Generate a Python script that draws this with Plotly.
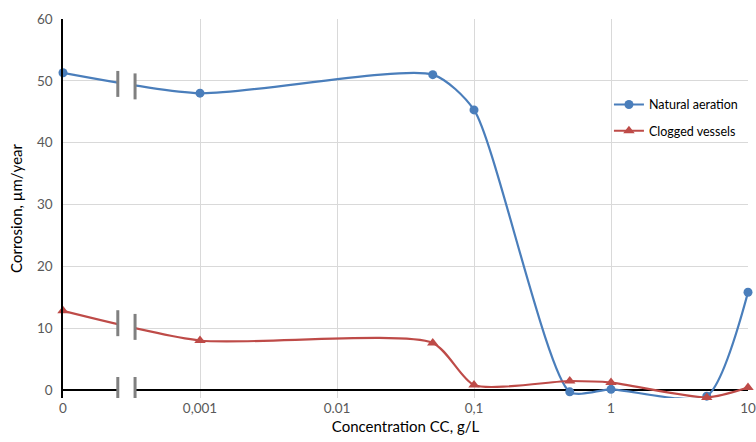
import math
import plotly.graph_objects as go

# ---- data ----
concentration = [0, 0.001, 0.05, 0.1, 0.5, 1, 5, 10]
natural_aeration = [51.3, 48.0, 51.0, 45.3, -0.3, 0.1, -1.0, 15.8]
clogged_vessels = [12.8, 8.0, 7.6, 0.8, 1.45, 1.2, -1.2, 0.4]
tick_values = [0, 0.001, 0.01, 0.1, 1, 10]
tick_labels = ["0", "0,001", "0.01", "0,1", "1", "10"]
series_names = ["Natural aeration", "Clogged vessels"]

ZERO_POS = -4  # axis position used for concentration 0 (broken axis)


def pos(v):
    return math.log10(v) if v > 0 else ZERO_POS


xs = [pos(v) for v in concentration]
tick_pos = [pos(v) for v in tick_values]

BLUE = "#4A7EBB"
RED = "#BE4B48"
FONT = "Lato, Carlito, Calibri, sans-serif"

fig = go.Figure()
fig.add_trace(go.Scatter(
    x=xs, y=natural_aeration, name=series_names[0], mode="lines+markers",
    legendgroup="a",
    line=dict(color=BLUE, width=2.2, shape="spline", smoothing=0.65),
    marker=dict(symbol="circle", size=9, color=BLUE), cliponaxis=False))
fig.add_trace(go.Scatter(
    x=xs, y=clogged_vessels, name=series_names[1], mode="lines+markers",
    legendgroup="b",
    line=dict(color=RED, width=2.2, shape="spline", smoothing=0.65),
    marker=dict(symbol="triangle-up", size=10, color=RED), cliponaxis=False))

# axis-break marks
bx0, bx1 = -3.6, -3.474
shapes = []
for yl, yr in [(49.5, 49.1), (10.8, 10.2), (0, 0)]:
    shapes.append(dict(type="rect", x0=bx0, x1=bx1, y0=min(yl, yr) - 1.5, y1=max(yl, yr) + 1.5,
                       fillcolor="white", line=dict(width=0), layer="above"))
    for bx, by in [(bx0, yl), (bx1, yr)]:
        shapes.append(dict(type="line", x0=bx, x1=bx, y0=by - 2.1, y1=by + 2.1,
                           line=dict(color="#808080", width=3), layer="above"))

fig.update_layout(
    width=756, height=442,
    margin=dict(l=63, r=8, t=19, b=44),
    plot_bgcolor="white", paper_bgcolor="white",
    font=dict(family=FONT, size=13.5, color="#595959"),
    shapes=shapes,
    showlegend=True,
    legend=dict(x=0.797, y=0.813, xanchor="left", yanchor="top",
                font=dict(family=FONT, size=12.5, color="#000000"),
                bgcolor="rgba(0,0,0,0)", tracegroupgap=7),
    xaxis=dict(range=[-4, 1], tickmode="array", tickvals=tick_pos, ticktext=tick_labels,
               showgrid=True, gridcolor="#D9D9D9", gridwidth=1, zeroline=False,
               showline=False, ticks="", automargin=False,
               title=dict(text="Concentration CC, g/L", standoff=6,
                          font=dict(family=FONT, size=15, color="#000000"))),
    yaxis=dict(range=[-1.3, 60], tick0=0, dtick=10, showgrid=True, gridcolor="#D9D9D9",
               zeroline=True, zerolinecolor="#000000", zerolinewidth=1.5,
               showline=True, linecolor="#000000", linewidth=1.5, ticks="",
               ticklabelstandoff=6, automargin=False,
               title=dict(text="Corrosion, µm/year", standoff=11,
                          font=dict(family=FONT, size=15, color="#000000"))),
)

fig.write_html(
    "out.html",
    config={"displayModeBar": False},
    post_script="document.body.style.margin='0';document.body.style.overflow='hidden';",
)
